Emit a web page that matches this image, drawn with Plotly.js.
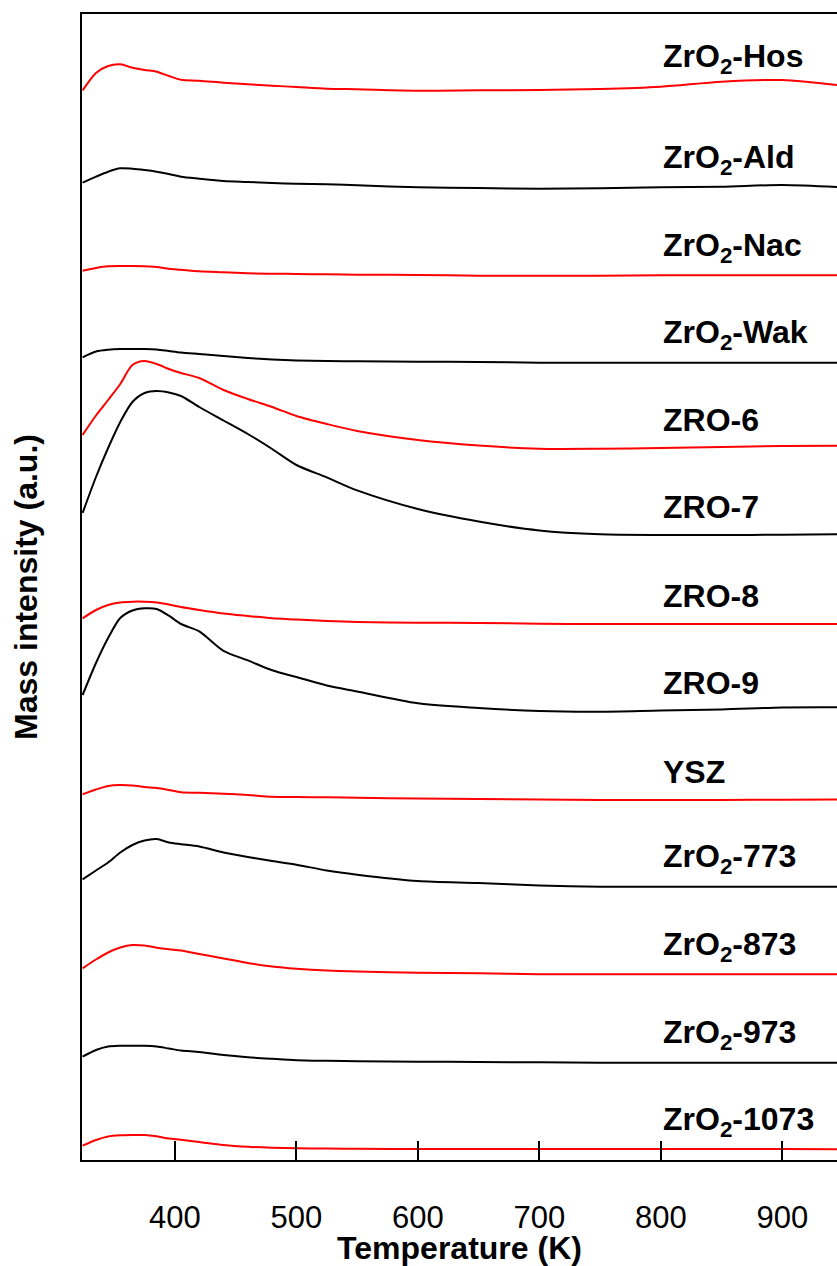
<!DOCTYPE html>
<html>
<head>
<meta charset="utf-8">
<script src="https://cdn.plot.ly/plotly-3.0.1.min.js"></script>
<style>html,body{margin:0;padding:0;background:#fff;}#chart{width:837px;height:1266px;}</style>
</head>
<body>
<div id="chart"></div>
<script>
// Temperature grid (K)
const temperature = [324, 335, 345, 355, 365, 375, 385, 395, 405, 420, 440, 460, 480, 500, 525, 550, 600, 650, 700, 750, 800, 850, 900, 945];

// Offset mass intensity traces (a.u.)
const hos   = [1069.5, 1087, 1094, 1095.7, 1092.3, 1090, 1088.3, 1084, 1080.3, 1079.3, 1077.3, 1075.7, 1074.3, 1073, 1071.3, 1070.7, 1069.3, 1069.7, 1070, 1071, 1073.3, 1078.3, 1080, 1075];
const ald   = [977.3, 983.3, 988.3, 991.7, 991.3, 990, 988.3, 986, 983.3, 981.3, 979, 978, 977, 976.3, 975.7, 974.7, 972.7, 972, 971.3, 971.7, 972.7, 973.3, 975, 973];
const nac   = [889.3, 892, 893.7, 894, 894, 893.7, 893, 891.3, 890.3, 888.7, 887.7, 886.7, 886.3, 886, 885.7, 885.3, 885, 884.3, 884.3, 884.3, 884.7, 884.7, 884.7, 884.7];
const wak   = [802.7, 808.5, 810.3, 811, 811, 811, 810.5, 809, 807.5, 806, 804, 802, 800.5, 799.5, 799, 798.7, 798.3, 798, 797.3, 797.3, 797.3, 797.3, 797.3, 797.3];
const zro6  = [725, 744.5, 760, 776, 795, 799, 796, 791, 787, 782, 770, 761, 753, 744, 736, 729, 720, 714.5, 711.3, 711.3, 712, 713, 714, 714.3];
const zro7  = [647, 683, 712, 738, 758, 767, 769, 767.5, 764, 753, 739.5, 726, 711, 695, 682.6, 669.6, 651, 638.5, 629.5, 625.7, 625, 625, 625.3, 625.7];
const zro8  = [541.7, 550, 555, 557.5, 558.3, 558.3, 557.5, 555.5, 553, 550, 546.5, 544, 541.7, 540.5, 539, 538, 537.3, 537, 536.3, 536, 536, 536, 536, 536];
const zro9  = [465, 497, 522, 542, 549.5, 551.7, 551, 544.3, 536, 528.6, 509.2, 499.6, 489.7, 483, 474.5, 468.5, 456.7, 452, 449, 448.3, 449.5, 450.5, 452.5, 452.7];
const ysz   = [365.7, 370.5, 374, 375, 374.5, 373, 372, 370, 367.7, 367.3, 366.3, 365, 363.3, 363, 362.7, 362.3, 361.5, 361, 360.5, 360, 360, 360, 360.3, 360.5];
const z773  = [280.7, 289.5, 297.5, 307.5, 315, 319.5, 321, 317.5, 315.8, 313.5, 307.5, 303, 299, 295.3, 289.5, 285.3, 279, 277, 274.5, 273.3, 273.3, 273.3, 273.3, 273.3];
const z873  = [191.7, 200.5, 207.5, 212.5, 215, 214.5, 212.3, 210.7, 209.5, 206, 201.5, 197, 193.5, 191.3, 189.5, 188.5, 187.3, 186.7, 185.7, 185.7, 185.7, 185.7, 185.7, 185.7];
const z973  = [103.3, 110, 113.5, 114.3, 114.3, 114.3, 113.5, 111.5, 109.5, 108, 105, 102.8, 101.2, 99.8, 99.2, 98.8, 98.3, 98, 97.7, 97.3, 97.3, 97.3, 97.3, 97.3];
const z1073 = [14.3, 20, 23.5, 24.7, 25, 25, 23.7, 21.5, 20.2, 18, 15, 13.2, 12.2, 11.7, 11.4, 11.2, 11, 11, 11, 11, 11, 11, 11, 10.7];

const seriesNames = ['ZrO<sub>2</sub>-Hos', 'ZrO<sub>2</sub>-Ald', 'ZrO<sub>2</sub>-Nac', 'ZrO<sub>2</sub>-Wak',
  'ZRO-6', 'ZRO-7', 'ZRO-8', 'ZRO-9', 'YSZ',
  'ZrO<sub>2</sub>-773', 'ZrO<sub>2</sub>-873', 'ZrO<sub>2</sub>-973', 'ZrO<sub>2</sub>-1073'];
const seriesValues = [hos, ald, nac, wak, zro6, zro7, zro8, zro9, ysz, z773, z873, z973, z1073];
const xTicks = [400, 500, 600, 700, 800, 900];

const RED = '#ff0000', BLACK = '#000000';
const FONT = 'Liberation Sans, Arial, Helvetica, sans-serif';

const traces = seriesValues.map((vals, i) => ({
  type: 'scatter', mode: 'lines', x: temperature, y: vals, name: seriesNames[i],
  line: {color: i % 2 === 0 ? RED : BLACK, width: 2, shape: 'spline', smoothing: 0.8},
  hoverinfo: 'skip', showlegend: false
}));

const labelIdx = temperature.indexOf(800);
const annotations = seriesValues.map((vals, i) => ({
  xref: 'x', yref: 'y', x: 800, y: vals[labelIdx] + 28,
  xanchor: 'left', yanchor: 'middle', showarrow: false,
  text: '<b>' + seriesNames[i] + '</b>',
  font: {family: FONT, size: 32, color: '#000'}
}));

const layout = {
  width: 837, height: 1266,
  margin: {l: 82, r: 0, t: 14, b: 106},
  paper_bgcolor: '#fff', plot_bgcolor: '#fff',
  showlegend: false,
  xaxis: {
    range: [323.5, 945], tickvals: xTicks, ticktext: xTicks.map(String),
    ticks: 'inside', ticklen: 19, tickwidth: 2, tickcolor: '#000',
    showline: true, linewidth: 2, linecolor: '#000', mirror: true,
    showgrid: false, zeroline: false,
    tickfont: {family: FONT, size: 31, color: '#000'},
    ticklabelstandoff: 29,
    title: {text: 'Temperature (K)', font: {family: FONT, size: 32, color: '#000', weight: 'bold'}, standoff: 1},
    automargin: false
  },
  yaxis: {
    range: [0, 1146], showline: true, linewidth: 2, linecolor: '#000',
    ticks: '', showticklabels: false, showgrid: false, zeroline: false,
    title: {text: 'Mass intensity (a.u.)', font: {family: FONT, size: 32, color: '#000', weight: 'bold'}, standoff: 33},
    automargin: false
  },
  annotations: annotations
};

Plotly.newPlot('chart', traces, layout, {displayModeBar: false, staticPlot: true});
</script>
</body>
</html>
